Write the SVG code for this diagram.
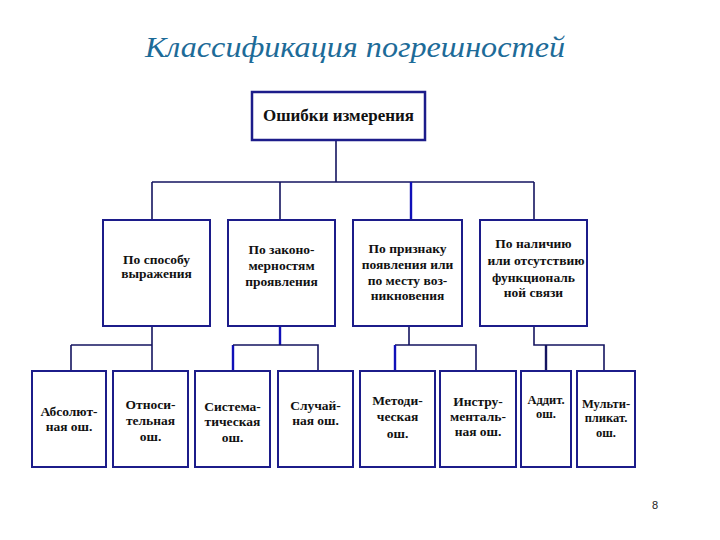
<svg xmlns="http://www.w3.org/2000/svg" width="720" height="540" viewBox="0 0 720 540">
<style>
.title{font-family:"Liberation Serif","DejaVu Serif","Times New Roman",serif;font-style:italic;font-size:30px;fill:#1d6b98}
.box{fill:#ffffff;stroke:#1c1c8a;stroke-width:2}
.t{font-family:"Liberation Serif","DejaVu Serif","Times New Roman",serif;font-weight:bold;font-size:13.5px;fill:#111111;text-anchor:middle}
.s{font-size:12.5px}
.tt{font-family:"Liberation Serif","DejaVu Serif","Times New Roman",serif;font-weight:bold;font-size:17px;fill:#111111;text-anchor:middle}
.ln{fill:none;stroke:#141460;stroke-width:1.6}
.lb{fill:none;stroke:#1010b8;stroke-width:2.4}
.pg{font-family:"Liberation Sans",Arial,sans-serif;font-size:11px;fill:#222222}
</style>
<rect width="720" height="540" fill="#ffffff"/>
<text class="title" x="355" y="57" text-anchor="middle" textLength="420" lengthAdjust="spacingAndGlyphs">Классификация погрешностей</text>

<g id="connectors">
<path class="ln" d="M336,140 V182 M152,182 H534 M152,182 V220 M280,182 V220 M534,182 V220"/>
<path class="lb" d="M411,182 V220"/>
<path class="ln" d="M152,326 V371 M71,345 H152 M71,345 V371"/>
<path class="lb" d="M280,326 V345 M233,345 V371"/>
<path class="ln" d="M233,345 H318 V371"/>
<path class="ln" d="M409,326 V345 M395,345 H476 V371"/>
<path class="lb" d="M395,345 V371"/>
<path class="ln" d="M534,326 V345 H604 V371"/>
<path class="ln" d="M546,345 V371" style="stroke-width:2.4"/>
</g>

<g id="root"><rect class="box" x="252" y="92" width="173" height="48" style="stroke-width:2.5"/><text class="tt" x="338.5" y="121">Ошибки измерения</text></g>

<g id="n1"><rect class="box" x="103" y="220" width="107" height="106"/><text class="t" x="156.5" y="264">По способу</text><text class="t" x="156.5" y="278">выражения</text></g>
<g id="n2"><rect class="box" x="228" y="220" width="107" height="106"/><text class="t" x="281.5" y="254">По законо-</text><text class="t" x="281.5" y="270">мерностям</text><text class="t" x="281.5" y="286">проявления</text></g>
<g id="n3"><rect class="box" x="353" y="220" width="109" height="106"/><text class="t" x="407.5" y="253">По признаку</text><text class="t" x="407.5" y="269">появления или</text><text class="t" x="407.5" y="285">по месту  воз-</text><text class="t" x="407.5" y="300">никновения</text></g>
<g id="n4"><rect class="box" x="480" y="220" width="107" height="106"/><text class="t" x="533.5" y="248">По наличию</text><text class="t" x="536" y="265">или отсутствию</text><text class="t" x="533.5" y="282">функциональ</text><text class="t" x="533.5" y="297">ной связи</text></g>

<g id="a"><rect class="box" x="32" y="371" width="74" height="96"/><text class="t" x="69" y="416">Абсолют-</text><text class="t" x="69" y="431">ная ош.</text></g>
<g id="b"><rect class="box" x="113" y="371" width="75" height="96"/><text class="t" x="150.5" y="409">Относи-</text><text class="t" x="150.5" y="425">тельная</text><text class="t" x="150.5" y="441">ош.</text></g>
<g id="c"><rect class="box" x="195" y="371" width="75" height="96"/><text class="t" x="232.5" y="411">Система-</text><text class="t" x="232.5" y="426">тическая</text><text class="t" x="232.5" y="442">ош.</text></g>
<g id="d"><rect class="box" x="278" y="371" width="75" height="96"/><text class="t" x="315.5" y="410">Случай-</text><text class="t" x="315.5" y="425">ная ош.</text></g>
<g id="e"><rect class="box" x="360" y="371" width="75" height="96"/><text class="t" x="397.5" y="405">Методи-</text><text class="t" x="397.5" y="421">ческая</text><text class="t" x="397.5" y="438">ош.</text></g>
<g id="f"><rect class="box" x="440" y="371" width="76" height="96"/><text class="t" x="478" y="406">Инстру-</text><text class="t" x="478" y="421">менталь-</text><text class="t" x="478" y="436">ная ош.</text></g>
<g id="g"><rect class="box" x="521" y="371" width="50" height="96"/><text class="t s" x="546" y="404">Аддит.</text><text class="t s" x="546" y="418">ош.</text></g>
<g id="h"><rect class="box" x="577" y="371" width="58" height="96"/><text class="t s" x="606" y="408">Мульти-</text><text class="t s" x="606" y="422">пликат.</text><text class="t s" x="606" y="437">ош.</text></g>

<text class="pg" x="655" y="509" text-anchor="middle">8</text>
</svg>
